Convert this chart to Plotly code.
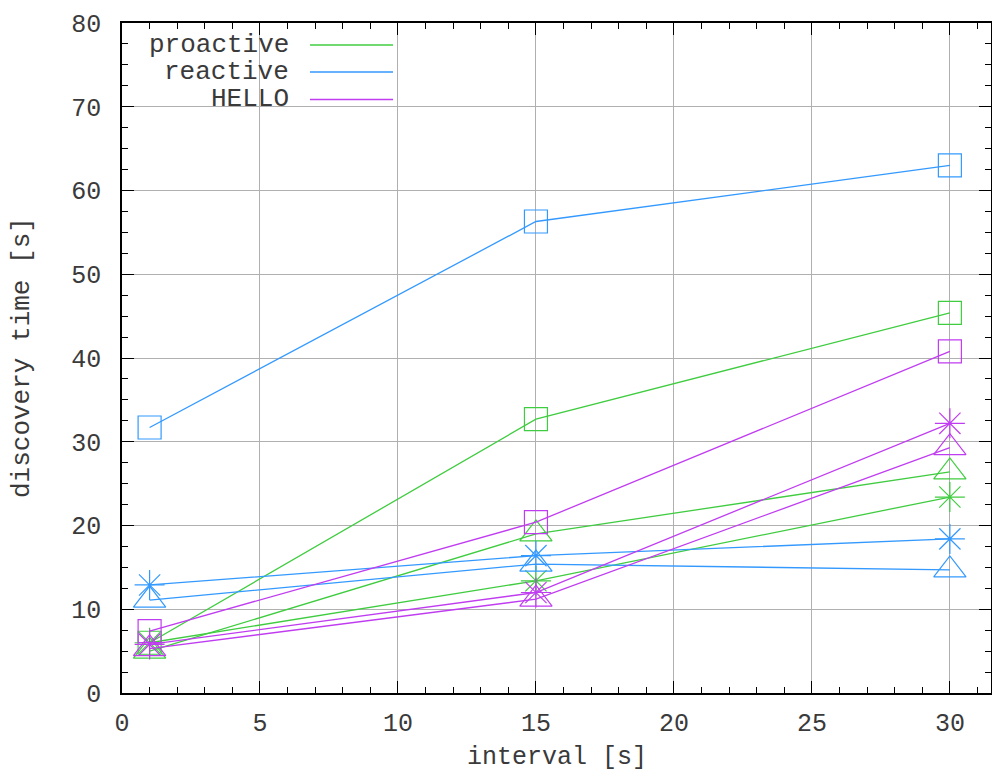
import plotly.graph_objects as go

x_vals = [1, 15, 30]

series_names = ["proactive", "reactive", "HELLO"]
series_colors = ["#40cc40", "#3399ff", "#c03cf0"]

proactive_square = [6.0, 32.7, 45.4]
proactive_triangle = [5.0, 19.0, 26.4]
proactive_star = [6.0, 13.4, 23.4]

reactive_square = [31.7, 56.3, 63.0]
reactive_star = [12.9, 16.4, 18.4]
reactive_triangle = [11.1, 15.4, 14.7]

hello_square = [7.4, 20.4, 40.8]
hello_star = [5.8, 12.0, 32.2]
hello_triangle = [5.3, 11.2, 29.3]

x_ticks = [0, 5, 10, 15, 20, 25, 30]
y_ticks = [0, 10, 20, 30, 40, 50, 60, 70, 80]

groups = [
    (proactive_square, proactive_triangle, proactive_star),
    (reactive_square, reactive_triangle, reactive_star),
    (hello_square, hello_triangle, hello_star),
]

FONT = "Liberation Mono"
TXT = "#3a3a3a"
FS = 25
fig = go.Figure()

for (sq, tri, st), color in zip(groups, series_colors):
    for vals, sym, size in [(sq, "square-open", 23), (tri, "triangle-up-open", 28), (st, "asterisk-open", 25)]:
        fig.add_trace(go.Scatter(
            x=x_vals, y=vals, mode="lines+markers",
            line=dict(color=color, width=1.3),
            marker=dict(symbol=sym, size=size, color=color, line=dict(color=color, width=1.2)),
            showlegend=False, hoverinfo="skip"))

axis_common = dict(
    showline=True, linecolor="#000", linewidth=1.5, mirror="allticks",
    ticks="inside", ticklen=12, tickwidth=1.2, tickcolor="#000",
    showgrid=True, gridcolor="#b0b0b0", gridwidth=1.3,
    zeroline=False, automargin=False, ticklabeloverflow="allow",
    tickfont=dict(family=FONT, size=FS, color=TXT),
)

fig.update_xaxes(range=[0, 31.49], tickvals=x_ticks, **axis_common, ticklabelstandoff=6,
                 minor=dict(dtick=1, tick0=0, ticks="inside", ticklen=6, tickcolor="#000", showgrid=False))
fig.update_yaxes(range=[0, 80], tickvals=y_ticks, **axis_common, ticklabelstandoff=14,
                 minor=dict(dtick=2.5, tick0=0, ticks="inside", ticklen=6, tickcolor="#000", showgrid=False))

# legend box (drawn manually, text left / line sample right like the original)
shapes = [dict(type="rect", xref="paper", yref="paper", x0=0.002, x1=0.328, y0=0.870, y1=0.997,
               fillcolor="white", line=dict(width=0), layer="between")]
annotations = []
row_y = [0.967, 0.927, 0.886]
for name, color, yy in zip(series_names, series_colors, row_y):
    annotations.append(dict(xref="paper", yref="paper", x=0.1945, y=yy, text=name, showarrow=False,
                            xanchor="right", yanchor="middle",
                            font=dict(family=FONT, size=26, color=TXT)))
    shapes.append(dict(type="line", xref="paper", yref="paper", x0=0.2163, x1=0.3119, y0=yy, y1=yy,
                       line=dict(color=color, width=1.5)))

# axis titles
annotations.append(dict(xref="paper", yref="paper", x=0.5, y=0, yshift=-64, text="interval [s]",
                        showarrow=False, xanchor="center", yanchor="middle",
                        font=dict(family=FONT, size=25, color=TXT)))
annotations.append(dict(xref="paper", yref="paper", x=0, y=0.5, xshift=-100, text="discovery time [s]",
                        showarrow=False, xanchor="center", yanchor="middle", textangle=-90,
                        font=dict(family=FONT, size=26, color=TXT)))

fig.update_layout(
    width=984, height=764,
    margin=dict(l=114, r=1, t=15, b=79),
    paper_bgcolor="white", plot_bgcolor="white",
    shapes=shapes, annotations=annotations,
    showlegend=False,
)

fig.write_html("out.html")
